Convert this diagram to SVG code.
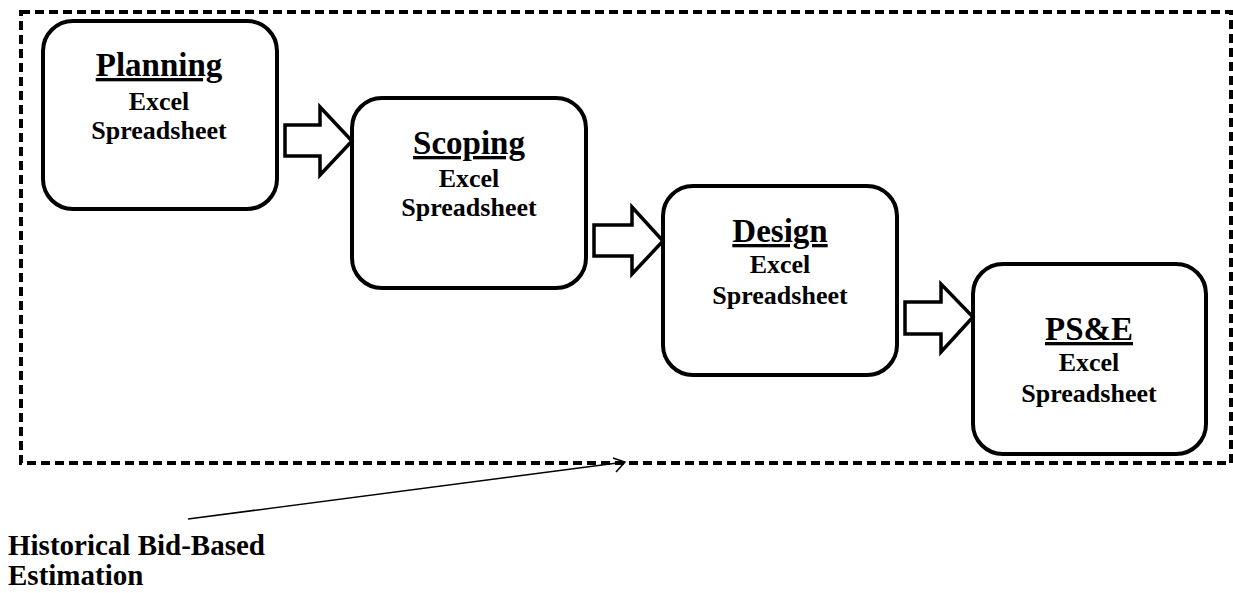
<svg xmlns="http://www.w3.org/2000/svg" width="1233" height="593" viewBox="0 0 1233 593">
<style>
.box{fill:#fff;stroke:#000;stroke-width:4}
.arr{fill:#fff;stroke:#000;stroke-width:3.5;stroke-linejoin:miter}
.t{font-family:"Liberation Serif","Times New Roman",serif;font-weight:bold;fill:#000;text-anchor:middle}
.title{font-size:33px;text-decoration:underline}
.body{font-size:26px}
.note{font-family:"Liberation Serif","Times New Roman",serif;font-weight:bold;font-size:29px;fill:#000}
</style>
<rect x="21" y="12" width="1210" height="451" fill="none" stroke="#000" stroke-width="4" stroke-dasharray="9 5"/>
<g id="planning">
<rect class="box" x="43" y="21" width="234" height="188" rx="30"/>
<text class="t title" x="159" y="76">Planning</text>
<text class="t body" x="159" y="110">Excel</text>
<text class="t body" x="159" y="139">Spreadsheet</text>
</g>
<g id="scoping">
<rect class="box" x="352" y="98" width="234" height="190" rx="30"/>
<text class="t title" x="469" y="154">Scoping</text>
<text class="t body" x="469" y="187">Excel</text>
<text class="t body" x="469" y="216">Spreadsheet</text>
</g>
<g id="design">
<rect class="box" x="663" y="186" width="234" height="189" rx="30"/>
<text class="t title" x="780" y="242">Design</text>
<text class="t body" x="780" y="273">Excel</text>
<text class="t body" x="780" y="304">Spreadsheet</text>
</g>
<g id="pse">
<rect class="box" x="973" y="264" width="233" height="190" rx="30"/>
<text class="t title" x="1089" y="340">PS&amp;E</text>
<text class="t body" x="1089" y="371">Excel</text>
<text class="t body" x="1089" y="402">Spreadsheet</text>
</g>
<g id="connectors">
<path class="arr" d="M285,125 H320 V107 L352,141 L320,175 V156 H285 Z"/>
<path class="arr" d="M594,225 H632 V207 L663,241 L632,274 V256 H594 Z"/>
<path class="arr" d="M905,302 H941 V284 L973,317 L941,352 V334 H905 Z"/>
<line x1="188" y1="519" x2="625" y2="462" stroke="#000" stroke-width="1.5"/>
<polyline points="613,458 625,462 616,472" fill="none" stroke="#000" stroke-width="1.5"/>
</g>
<g id="note">
<text class="note" x="8" y="555">Historical Bid-Based</text>
<text class="note" x="8" y="585">Estimation</text>
</g>
</svg>
